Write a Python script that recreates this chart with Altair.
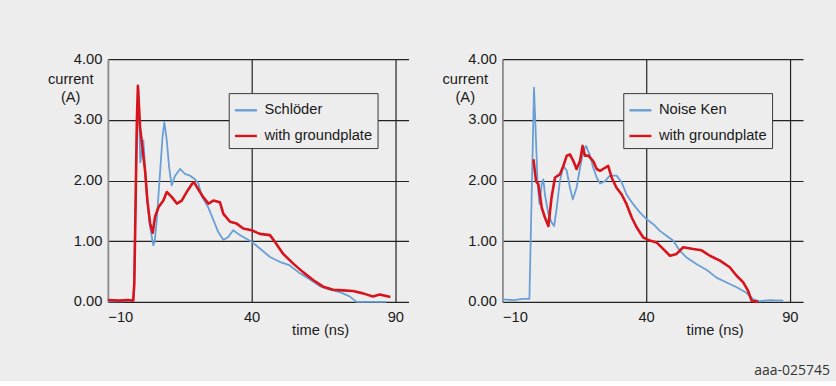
import altair as alt
import pandas as pd

# ---- measured discharge current, left pair ----
schloeder_t = [-10, -5, -1.0, -0.5, 0.1, 0.6, 1.3, 2.36, 3.5, 4.7, 5.8, 6.3, 7.0, 8.2, 9.0,
               9.65, 10.5, 11.3, 12.2, 13.4, 15.1, 16.8, 18.6, 20.3, 21.5, 22.6, 25.0, 26.7,
               28.4, 30.2, 31.9, 33.6, 35.4, 37.1, 40.0, 42.9, 46.4, 49.8, 53.3, 56.8, 60.3,
               63.7, 67.2, 70.7, 74.1, 76.5, 82.2, 86.9]
schloeder_i = [0.01, 0.01, 0.03, 1.2, 2.9, 3.5, 2.3, 2.66, 1.78, 1.23, 0.93, 1.0, 1.34, 2.16, 2.71,
               2.96, 2.66, 2.22, 1.92, 2.08, 2.19, 2.11, 2.08, 2.02, 1.95, 1.75, 1.55, 1.35,
               1.15, 1.02, 1.07, 1.18, 1.12, 1.07, 0.99, 0.88, 0.74, 0.66, 0.60, 0.47, 0.37,
               0.26, 0.20, 0.16, 0.09, 0.0, 0.0, 0.0]

gp_left_t = [-10, -6, -3, -1.2, -0.8, -0.3, 0.1, 0.45, 1.2, 2.0, 2.95, 3.75, 4.7, 5.6, 6.4,
             7.6, 9.3, 10.5, 12.2, 14.0, 15.7, 17.4, 19.4, 20.0, 21.4, 23.1, 25.0, 26.7, 29.0,
             30.2, 32.5, 34.8, 37.1, 40.0, 42.9, 46.4, 48.1, 51.0, 54.5, 57.9, 61.4, 64.9,
             68.4, 71.8, 75.3, 78.8, 82.2, 84.6, 88.3]
gp_left_i = [0.03, 0.02, 0.03, 0.02, 0.3, 1.8, 3.0, 3.56, 2.88, 2.55, 2.16, 1.67, 1.29, 1.14, 1.40,
             1.56, 1.67, 1.81, 1.73, 1.62, 1.67, 1.81, 1.95, 1.97, 1.86, 1.73, 1.62, 1.67, 1.64,
             1.45, 1.32, 1.29, 1.21, 1.18, 1.12, 1.10, 0.99, 0.79, 0.63, 0.49, 0.36, 0.25,
             0.20, 0.19, 0.18, 0.14, 0.09, 0.12, 0.08]

# ---- measured discharge current, right pair ----
noiseken_t = [-10, -6, -3, -0.6, 0.2, 1.0, 1.7, 2.2, 2.9, 3.7, 4.25, 4.8, 6.0, 7.1, 8.0, 8.9,
              10.0, 11.2, 12.4, 13.5, 14.5, 15.8, 17.0, 18.2, 19.1, 20.5, 21.6, 22.8, 24.0,
              25.7, 27.4, 29.7, 31.5, 33.2, 35.5, 37.9, 40.2, 42.5, 44.8, 47.1, 49.4, 51.8,
              54.1, 57.6, 61.0, 64.5, 68.0, 71.5, 74.9, 77.3, 79.6, 83.0, 87.7]
noiseken_i = [0.04, 0.03, 0.05, 0.05, 1.8, 3.53, 2.65, 1.99, 1.61, 1.94, 2.02, 1.77, 1.45, 1.31,
              1.25, 1.55, 1.99, 2.24, 2.16, 1.88, 1.69, 1.88, 2.21, 2.49, 2.57, 2.41, 2.21,
              2.05, 1.95, 1.99, 2.08, 2.08, 1.97, 1.77, 1.61, 1.47, 1.36, 1.28, 1.17, 1.09,
              1.01, 0.84, 0.73, 0.62, 0.53, 0.40, 0.32, 0.24, 0.15, 0.04, 0.01, 0.03, 0.02]

# the groundplate trace of this pair is recorded from just after the first peak
gp_right_t = [0.8, 1.7, 2.5, 3.7, 4.8, 6.0, 7.1, 8.3, 10.0, 11.2, 12.4,
              13.5, 14.7, 15.8, 17.0, 17.9, 18.7, 19.9, 21.6, 22.8, 24.0, 25.7, 26.8, 28.0,
              29.7, 31.5, 33.2, 35.0, 36.7, 39.0, 41.3, 43.6, 46.0, 48.3, 50.6, 52.9, 56.4,
              59.3, 62.2, 65.7, 69.1, 71.5, 73.8, 75.5, 76.7, 79.0]
gp_right_i = [2.35, 1.99, 1.94, 1.55, 1.39, 1.25, 1.72, 2.05, 2.10, 2.24,
              2.41, 2.43, 2.32, 2.19, 2.32, 2.57, 2.41, 2.41, 2.32, 2.19, 2.16, 2.21, 2.24,
              2.05, 1.88, 1.77, 1.61, 1.39, 1.23, 1.06, 1.01, 0.98, 0.87, 0.76, 0.79, 0.90,
              0.87, 0.85, 0.76, 0.68, 0.57, 0.43, 0.32, 0.18, 0.02, 0.0]

x_ticks = [-10, 40, 90]
y_ticks = [0, 1, 2, 3, 4]

BLUE = "#6a9fd6"
RED = "#d7141c"
GROUND = "with groundplate"
FONT = "Liberation Sans"
INK = "#1a1a1a"
BG = "#ededed"


def frame(t, i, name):
    return pd.DataFrame({"t": t, "current": i, "series": name})


def panel(probe_t, probe_i, probe_name, gp_t, gp_i):
    domain = [probe_name, GROUND]
    color = alt.Color(
        "series:N",
        scale=alt.Scale(domain=domain, range=[BLUE, RED]),
        title=None,
        legend=alt.Legend(
            orient="none", legendX=121, legendY=34, direction="vertical",
            symbolType="stroke", symbolSize=484, symbolStrokeWidth=2.4,
            labelFont=FONT, labelFontSize=14.7, labelColor=INK, labelOffset=6,
            rowPadding=5.7, padding=4.7, fillColor=BG, strokeColor="#3a3a3a",
        ),
    )
    x = alt.X(
        "t:Q",
        scale=alt.Scale(domain=[-10, 94.6], nice=False, zero=False),
        axis=alt.Axis(
            values=x_ticks, format="d", domain=False, ticks=False,
            grid=True, gridWidth=1.2,
            gridColor={"condition": {"test": "datum.value === -10", "value": "transparent"},
                       "value": "#222222"},
            labelFont=FONT, labelFontSize=14.7, labelColor=INK,
            labelBaseline="alphabetic", labelPadding=20,
            title="time (ns)", titleFont=FONT, titleFontSize=14.7, titleFontWeight="normal",
            titleColor=INK, titleAlign="center", titleBaseline="alphabetic",
            titleX=212.5, titleY=32.5,
        ),
    )
    y = alt.Y(
        "current:Q",
        scale=alt.Scale(domain=[0, 4], nice=False),
        axis=alt.Axis(
            values=y_ticks, format=".2f", ticks=False,
            domain=True, domainColor="#8a8a8a", domainWidth=1.8,
            grid=True, gridColor="#222222", gridWidth=1.2,
            labelFont=FONT, labelFontSize=14.7, labelColor=INK, labelPadding=6,
            title=["current", "(A)"], titleFont=FONT, titleFontSize=14.7,
            titleFontWeight="normal", titleColor=INK, titleAngle=0,
            titleAlign="center", titleBaseline="alphabetic",
            titleX=-37.7, titleY=24, titleLineHeight=18,
        ),
    )
    probe = alt.Chart(frame(probe_t, probe_i, probe_name)).mark_line(
        strokeWidth=1.8, strokeJoin="round"
    ).encode(x=x, y=y, color=color)
    ground = alt.Chart(frame(gp_t, gp_i, GROUND)).mark_line(
        strokeWidth=2.6, strokeJoin="round"
    ).encode(x=x, y=y, color=color)
    return alt.layer(probe, ground).properties(width=301, height=243)


left = panel(schloeder_t, schloeder_i, "Schlöder", gp_left_t, gp_left_i)
right = panel(noiseken_t, noiseken_i, "Noise Ken", gp_right_t, gp_right_i)

chart = (
    alt.hconcat(left, right, spacing=94, bounds="flush")
    .resolve_scale(color="independent")
    .resolve_legend(color="independent")
    .properties(
        background=BG,
        padding={"left": 47, "top": 51, "right": 6, "bottom": 2},
        title=alt.TitleParams(
            "aaa-025745", orient="bottom", anchor="end", font="Open Sans",
            fontSize=14, fontWeight="normal", color="#333333", offset=27, dx=27,
        ),
    )
    .configure_view(stroke=None)
)

chart.save("out.html", embed_options={"renderer": "svg", "actions": False})
